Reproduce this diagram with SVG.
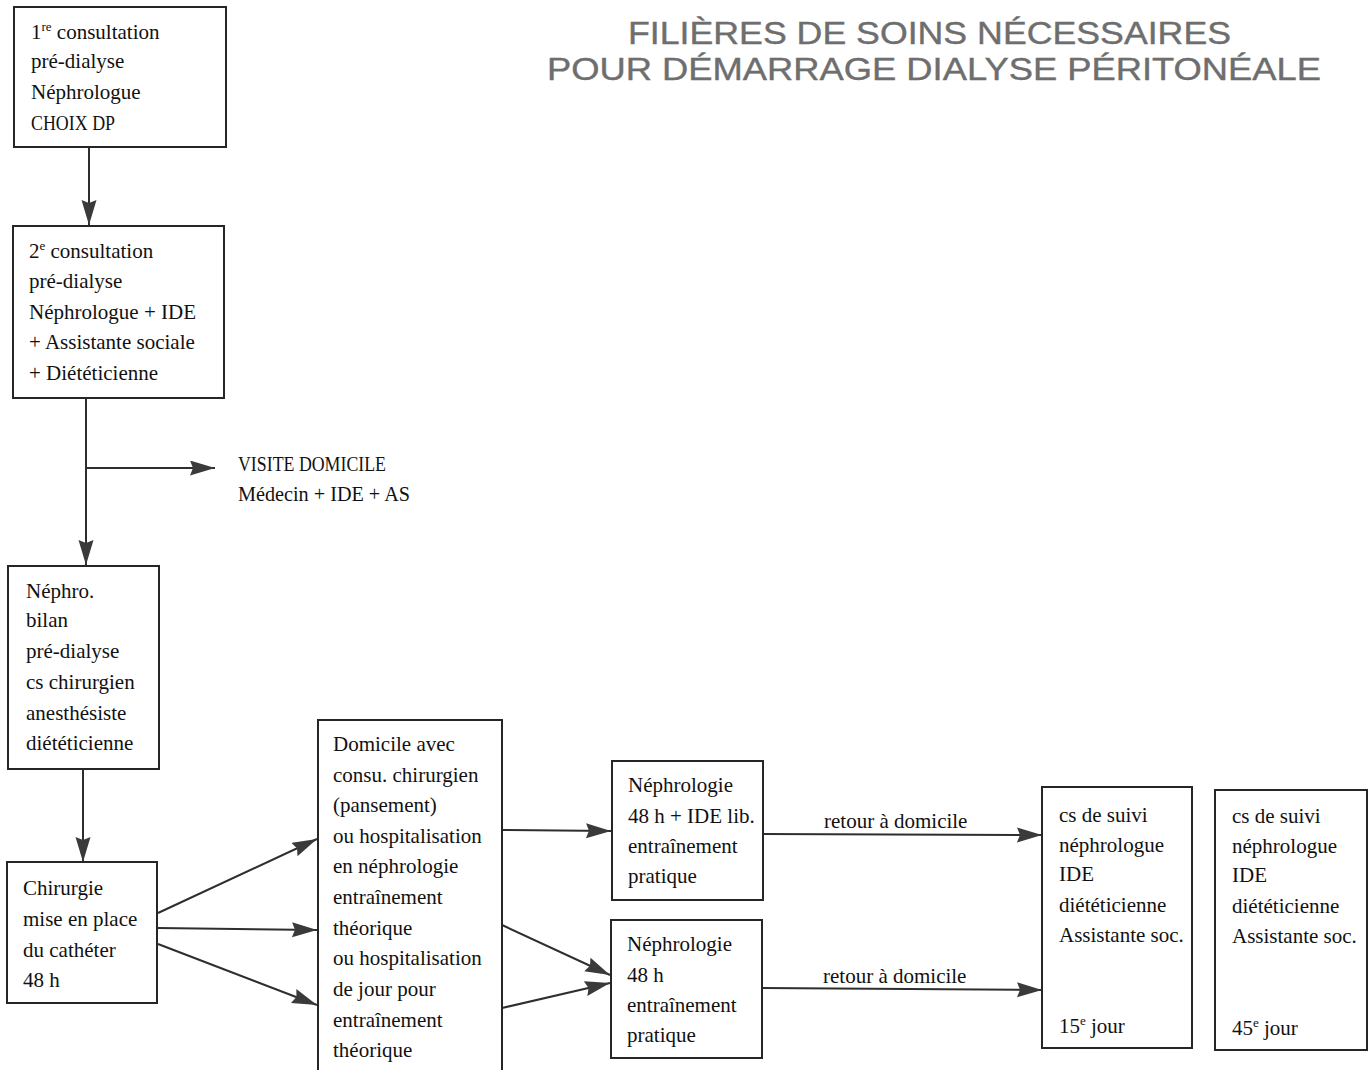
<svg xmlns="http://www.w3.org/2000/svg" width="1372" height="1070" viewBox="0 0 1372 1070">
<style>
  .bg { fill: #ffffff; }
  .box { fill: #ffffff; stroke: #262626; stroke-width: 2; }
  .t { font-family: "Liberation Serif", "Times New Roman", serif; font-size: 21px; fill: #111111; }
  .sup { font-size: 13px; }
  .title { font-family: "Liberation Sans", Arial, sans-serif; font-size: 32px; fill: #6e6e6e; stroke: #6e6e6e; stroke-width: 0.4; }
  .conn { fill: none; stroke: #2e2e2e; stroke-width: 2; marker-end: url(#arr); }
</style>
<defs>
  <marker id="arr" markerUnits="userSpaceOnUse" markerWidth="26" markerHeight="16" refX="25" refY="7.5" orient="auto">
    <path d="M0,0 L25,7.5 L0,15 L3,7.5 z" fill="#3a3a3a"/>
  </marker>
</defs>
<rect class="bg" x="0" y="0" width="1372" height="1070"/>

<g id="title">
  <text class="title" x="628" y="44" textLength="603" lengthAdjust="spacingAndGlyphs">FILIÈRES DE SOINS NÉCESSAIRES</text>
  <text class="title" x="547" y="80" textLength="774" lengthAdjust="spacingAndGlyphs">POUR DÉMARRAGE DIALYSE PÉRITONÉALE</text>
</g>

<g id="connectors">
  <path class="conn" d="M89,147 V225"/>
  <path class="conn" d="M86,398 V565"/>
  <path class="conn" d="M86,468 H215"/>
  <path class="conn" d="M83,769 V862"/>
  <path class="conn" d="M158,913 L317,839"/>
  <path class="conn" d="M158,928 L317,930"/>
  <path class="conn" d="M158,944 L317,1005"/>
  <path class="conn" d="M502,830 L611,831"/>
  <path class="conn" d="M502,925 L610,975"/>
  <path class="conn" d="M502,1008 L610,983"/>
  <path class="conn" d="M763,834 L1042,835"/>
  <path class="conn" d="M762,988 L1042,990"/>
  <text class="t" x="824" y="828">retour à domicile</text>
  <text class="t" x="823" y="983">retour à domicile</text>
</g>

<g id="n1">
  <rect class="box" x="14" y="7" width="212" height="140"/>
  <text class="t" x="31" y="39">1<tspan class="sup" dy="-8">re</tspan><tspan dy="8"> consultation</tspan></text>
  <text class="t" x="31" y="68">pré-dialyse</text>
  <text class="t" x="31" y="99">Néphrologue</text>
  <text class="t" x="31" y="130" textLength="84" lengthAdjust="spacingAndGlyphs">CHOIX DP</text>
</g>

<g id="n2">
  <rect class="box" x="13" y="226" width="211" height="172"/>
  <text class="t" x="29" y="258">2<tspan class="sup" dy="-8">e</tspan><tspan dy="8"> consultation</tspan></text>
  <text class="t" x="29" y="288">pré-dialyse</text>
  <text class="t" x="29" y="319">Néphrologue + IDE</text>
  <text class="t" x="29" y="349">+ Assistante sociale</text>
  <text class="t" x="29" y="380">+ Diététicienne</text>
</g>

<g id="visite">
  <text class="t" x="238" y="471" textLength="148" lengthAdjust="spacingAndGlyphs">VISITE DOMICILE</text>
  <text class="t" x="238" y="501" textLength="172" lengthAdjust="spacingAndGlyphs">Médecin + IDE + AS</text>
</g>

<g id="n3">
  <rect class="box" x="8" y="566" width="151" height="203"/>
  <text class="t" x="26" y="598">Néphro.</text>
  <text class="t" x="26" y="627">bilan</text>
  <text class="t" x="26" y="658">pré-dialyse</text>
  <text class="t" x="26" y="689">cs chirurgien</text>
  <text class="t" x="26" y="720">anesthésiste</text>
  <text class="t" x="26" y="750">diététicienne</text>
</g>

<g id="n4">
  <rect class="box" x="7" y="862" width="150" height="141"/>
  <text class="t" x="23" y="895">Chirurgie</text>
  <text class="t" x="23" y="926">mise en place</text>
  <text class="t" x="23" y="957">du cathéter</text>
  <text class="t" x="23" y="987">48 h</text>
</g>

<g id="n5">
  <path class="box" d="M318,1075 V720 H502 V1075"/>
  <text class="t" x="333" y="751">Domicile avec</text>
  <text class="t" x="333" y="782">consu. chirurgien</text>
  <text class="t" x="333" y="812">(pansement)</text>
  <text class="t" x="333" y="843">ou hospitalisation</text>
  <text class="t" x="333" y="873">en néphrologie</text>
  <text class="t" x="333" y="904">entraînement</text>
  <text class="t" x="333" y="935">théorique</text>
  <text class="t" x="333" y="965">ou hospitalisation</text>
  <text class="t" x="333" y="996">de jour pour</text>
  <text class="t" x="333" y="1027">entraînement</text>
  <text class="t" x="333" y="1057">théorique</text>
</g>

<g id="n6">
  <rect class="box" x="612" y="761" width="151" height="139"/>
  <text class="t" x="628" y="792">Néphrologie</text>
  <text class="t" x="628" y="823">48 h + IDE lib.</text>
  <text class="t" x="628" y="853">entraînement</text>
  <text class="t" x="628" y="883">pratique</text>
</g>

<g id="n7">
  <rect class="box" x="611" y="920" width="151" height="138"/>
  <text class="t" x="627" y="951">Néphrologie</text>
  <text class="t" x="627" y="982">48 h</text>
  <text class="t" x="627" y="1012">entraînement</text>
  <text class="t" x="627" y="1042">pratique</text>
</g>

<g id="n8">
  <rect class="box" x="1042" y="787" width="150" height="261"/>
  <text class="t" x="1059" y="822">cs de suivi</text>
  <text class="t" x="1059" y="852">néphrologue</text>
  <text class="t" x="1059" y="881">IDE</text>
  <text class="t" x="1059" y="912">diététicienne</text>
  <text class="t" x="1059" y="942">Assistante soc.</text>
  <text class="t" x="1059" y="1033">15<tspan class="sup" dy="-8">e</tspan><tspan dy="8"> jour</tspan></text>
</g>

<g id="n9">
  <rect class="box" x="1215" y="790" width="152" height="260"/>
  <text class="t" x="1232" y="823">cs de suivi</text>
  <text class="t" x="1232" y="853">néphrologue</text>
  <text class="t" x="1232" y="882">IDE</text>
  <text class="t" x="1232" y="913">diététicienne</text>
  <text class="t" x="1232" y="943">Assistante soc.</text>
  <text class="t" x="1232" y="1035">45<tspan class="sup" dy="-8">e</tspan><tspan dy="8"> jour</tspan></text>
</g>
</svg>
